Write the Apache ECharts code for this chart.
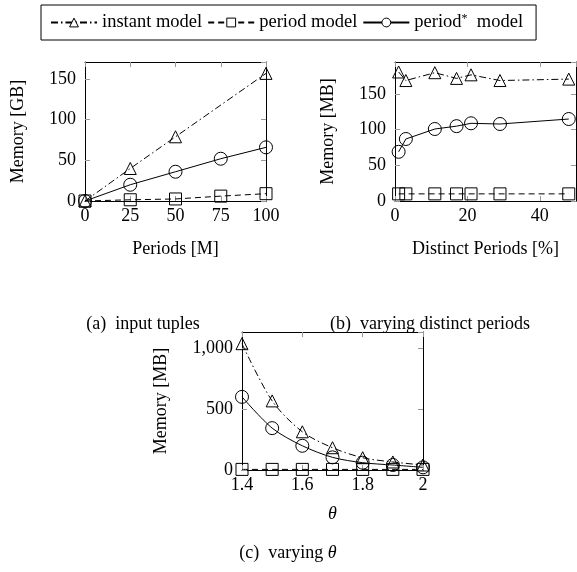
<!DOCTYPE html>
<html>
<head>
<meta charset="utf-8">
<script src="https://cdn.jsdelivr.net/npm/echarts@6/dist/echarts.min.js"></script>
<style>html,body{margin:0;padding:0;background:#fff}#c{width:577px;height:572px}</style>
</head>
<body>
<div id="c"></div>
<script>
// ---- data ----
const seriesNames = ['instant model', 'period model', 'period* model'];
// (a) input tuples
const aXInstant = [0, 25, 50, 100];
const aInstant = [0, 40, 79, 157];
const aX = [0, 25, 50, 75, 100];
const aPeriod = [0, 1.5, 2.5, 6, 9];
const aPeriodStar = [0, 20, 36, 52, 66];
// (b) varying distinct periods
const bX = [1, 3, 11, 17, 21, 29, 48];
const bInstant = [181, 169, 180, 172, 177, 169, 171];
const bPeriod = [10, 10, 10, 10, 10, 10, 10];
const bPeriodStar = [69, 87, 101, 105, 109, 108, 115];
// (c) varying theta
const cX = [1.4, 1.5, 1.6, 1.7, 1.8, 1.9, 2.0];
const cInstant = [1038, 568, 314, 183, 101, 66, 41];
const cPeriod = [5, 5, 5, 5, 5, 5, 5];
const cPeriodStar = [601, 344, 199, 104, 60, 41, 22];
// captions / axis titles
const captions = ['(a)  input tuples', '(b)  varying distinct periods', '(c)  varying {it|θ}'];
const xTitles = ['Periods [M]', 'Distinct Periods [%]', 'θ'];
const yTitles = ['Memory [GB]', 'Memory [MB]', 'Memory [MB]'];

const FONT = '"Liberation Serif", "Times New Roman", serif';
const FS = 18;
const pairs = (xs, ys) => xs.map((x, i) => [x, ys[i]]);

const grids = [
  {left: 85, top: 62, width: 181, height: 139},
  {left: 395, top: 62, width: 181, height: 139},
  {left: 242, top: 332, width: 181, height: 138}
];
const xr = [{min: 0, max: 100, interval: 25}, {min: 0, max: 50, interval: 20}, {min: 1.4, max: 2, interval: 0.2}];
const yr = [{min: 0, max: 171, interval: 50}, {min: 0, max: 195, interval: 50}, {min: 0, max: 1134, interval: 500}];

const tick = {show: true, inside: true, length: 5, lineStyle: {color: '#999', width: 1}};
const line = {show: true, onZero: false, lineStyle: {color: '#000', width: 1}};
const lbl = {fontFamily: FONT, fontSize: FS, color: '#000'};

const xAxis = [], yAxis = [];
grids.forEach((g, i) => {
  xAxis.push(Object.assign({
    type: 'value', gridIndex: i, position: 'bottom',
    name: xTitles[i], nameLocation: 'middle', nameGap: i === 2 ? 35 : 39,
    nameTextStyle: Object.assign({}, lbl, i === 2 ? {fontStyle: 'italic'} : {}),
    axisLine: line, axisTick: tick, splitLine: {show: false},
    axisLabel: Object.assign({}, lbl, {margin: 6, showMaxLabel: i !== 1,
      formatter: v => (i === 2 ? String(+v.toFixed(1)) : String(v))})
  }, xr[i]));
  xAxis.push(Object.assign({
    type: 'value', gridIndex: i, position: 'top',
    axisLine: line, axisTick: tick, splitLine: {show: false}, axisLabel: {show: false}
  }, xr[i]));
  yAxis.push(Object.assign({
    type: 'value', gridIndex: i, position: 'left',
    name: yTitles[i], nameLocation: 'middle', nameGap: i === 2 ? 72 : 58,
    nameTextStyle: lbl,
    axisLine: line, axisTick: tick, splitLine: {show: false},
    axisLabel: Object.assign({}, lbl, {margin: 9, showMaxLabel: false,
      formatter: v => v.toLocaleString('en-US')})
  }, yr[i]));
  yAxis.push(Object.assign({
    type: 'value', gridIndex: i, position: 'right',
    axisLine: line, axisTick: tick, splitLine: {show: false}, axisLabel: {show: false}
  }, yr[i]));
});

const styles = [
  {symbol: 'triangle', symbolSize: 12, type: [7, 3, 1.5, 3]},
  {symbol: 'rect', symbolSize: 12, type: [6, 4]},
  {symbol: 'circle', symbolSize: 13, type: 'solid'}
];
function mk(k, grid, data, smooth) {
  const s = styles[k];
  return {
    name: seriesNames[k], type: 'line', xAxisIndex: grid * 2, yAxisIndex: grid * 2,
    data: data, symbol: s.symbol, symbolSize: s.symbolSize, showAllSymbol: true,
    smooth: smooth ? 0.3 : false, clip: false, animation: false, z: 3 - k,
    lineStyle: {color: '#000', width: 1, type: s.type},
    itemStyle: {color: 'rgba(0,0,0,0)', borderColor: '#000', borderWidth: 1}
  };
}
const series = [
  mk(0, 0, pairs(aXInstant, aInstant)), mk(1, 0, pairs(aX, aPeriod)), mk(2, 0, pairs(aX, aPeriodStar)),
  mk(0, 1, pairs(bX, bInstant)), mk(1, 1, pairs(bX, bPeriod)), mk(2, 1, pairs(bX, bPeriodStar)),
  mk(0, 2, pairs(cX, cInstant), true), mk(1, 2, pairs(cX, cPeriod), true), mk(2, 2, pairs(cX, cPeriodStar), true)
];

const capPos = [[143, 324], [430, 324], [288, 553]];
const graphic = captions.map((t, i) => ({
  type: 'text', x: capPos[i][0], y: capPos[i][1],
  style: {text: t, align: 'center', verticalAlign: 'middle', font: FS + 'px ' + FONT, fill: '#000',
    rich: {it: {fontStyle: 'italic', fontFamily: FONT, fontSize: FS}}}
}));

const chart = echarts.init(document.getElementById('c'), null, {renderer: 'canvas'});
chart.setOption({
  animation: false,
  backgroundColor: '#fff',
  grid: grids.map(g => Object.assign({containLabel: false}, g)),
  xAxis: xAxis, yAxis: yAxis, series: series, graphic: graphic,
  legend: {
    data: seriesNames, top: 5, left: 41, orient: 'horizontal',
    borderColor: '#000', borderWidth: 1, padding: [8, 13, 8, 9], itemGap: 5,
    itemWidth: 46, itemHeight: 11,
    itemStyle: {color: '#fff', borderColor: '#000', borderWidth: 1},
    textStyle: {fontFamily: FONT, fontSize: 18.5, color: '#000',
      rich: {sup: {fontSize: 12, fontFamily: FONT, verticalAlign: 'top', padding: [0, 0, 7, 0]}}},
    formatter: n => n === 'period* model' ? 'period{sup|*}  model' : n
  }
});
</script>
</body>
</html>
